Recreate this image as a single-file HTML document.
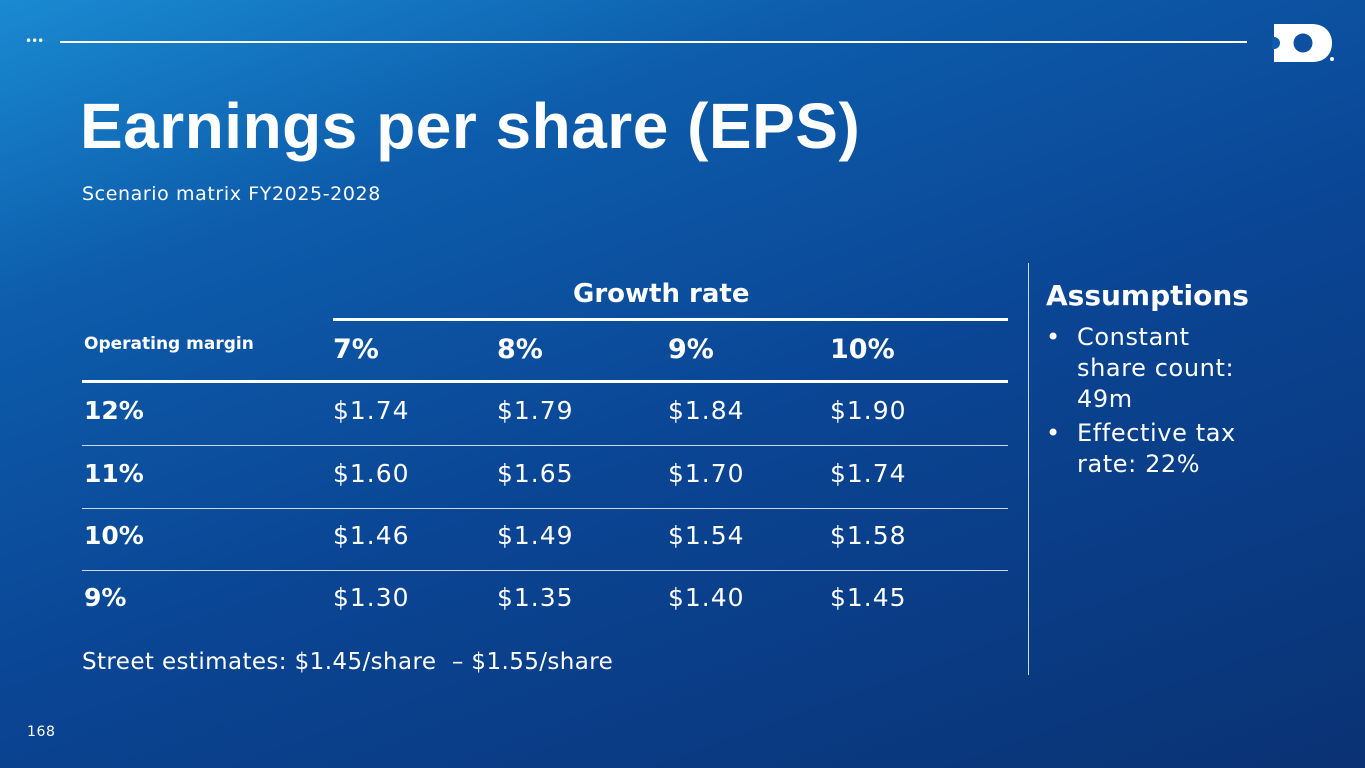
<!DOCTYPE html><html><head><style>
body{margin:0;width:1365px;height:768px;overflow:hidden;font-family:"DejaVu Sans","Liberation Sans",sans-serif;color:#fff;letter-spacing:0.6px;
background:linear-gradient(160deg,#1a8ad2 0%,#0d5cab 25%,#0a4594 55%,#0a3274 100%);position:relative}
.a{position:absolute;white-space:nowrap}
.t{font-size:25px}
.b{font-weight:bold}
</style></head><body>
<div class="a" style="left:25px;top:34px;font-size:12px;letter-spacing:-1px">•••</div>
<div class="a" style="left:60px;top:41px;width:1187px;height:2px;background:#fff"></div>
<svg class="a" style="left:1272px;top:24px" width="64" height="40" viewBox="0 0 64 40">
<path d="M2 0H40C54 0 60 10 60 19C60 29 54 38 40 38H2Z" fill="#fff"/>
<circle cx="2" cy="19" r="6" fill="#0f5aaa"/>
<circle cx="31" cy="19" r="9.5" fill="#0d4fa0"/><circle cx="60" cy="35" r="2" fill="#fff"/></svg>
<div class="a b" style="left:80px;top:89px;font-size:64px;font-family:'Liberation Sans',sans-serif;letter-spacing:0.5px">Earnings per share (EPS)</div>
<div class="a" style="left:82px;top:183px;font-size:19px">Scenario matrix FY2025-2028</div>
<div class="a b" style="left:573px;top:279px;font-size:26px;letter-spacing:0">Growth rate</div>
<div class="a" style="left:333px;top:318px;width:675px;height:3px;background:#fff"></div>
<div class="a b" style="left:84px;top:334px;font-size:17px;letter-spacing:0">Operating margin</div>
<div class="a b" style="left:333px;top:334px;font-size:27px;letter-spacing:0">7%</div>
<div class="a b" style="left:497px;top:334px;font-size:27px;letter-spacing:0">8%</div>
<div class="a b" style="left:668px;top:334px;font-size:27px;letter-spacing:0">9%</div>
<div class="a b" style="left:830px;top:334px;font-size:27px;letter-spacing:0">10%</div>
<div class="a" style="left:82px;top:380px;width:926px;height:3px;background:#fff"></div>
<div class="a" style="left:82px;top:445px;width:926px;height:1px;background:#cfd8e8"></div>
<div class="a" style="left:82px;top:508px;width:926px;height:1px;background:#cfd8e8"></div>
<div class="a" style="left:82px;top:570px;width:926px;height:1px;background:#cfd8e8"></div>
<div class="a t" style="top:396px;left:0;width:1000px;height:200px;letter-spacing:1px">
<div class="a b" style="left:84px;top:0;letter-spacing:0">12%</div><div class="a" style="left:333px;top:0">$1.74</div><div class="a" style="left:497px;top:0">$1.79</div><div class="a" style="left:668px;top:0">$1.84</div><div class="a" style="left:830px;top:0">$1.90</div>
<div class="a b" style="left:84px;top:63px;letter-spacing:0">11%</div><div class="a" style="left:333px;top:63px">$1.60</div><div class="a" style="left:497px;top:63px">$1.65</div><div class="a" style="left:668px;top:63px">$1.70</div><div class="a" style="left:830px;top:63px">$1.74</div>
<div class="a b" style="left:84px;top:125px;letter-spacing:0">10%</div><div class="a" style="left:333px;top:125px">$1.46</div><div class="a" style="left:497px;top:125px">$1.49</div><div class="a" style="left:668px;top:125px">$1.54</div><div class="a" style="left:830px;top:125px">$1.58</div>
<div class="a b" style="left:84px;top:187px;letter-spacing:0">9%</div><div class="a" style="left:333px;top:187px">$1.30</div><div class="a" style="left:497px;top:187px">$1.35</div><div class="a" style="left:668px;top:187px">$1.40</div><div class="a" style="left:830px;top:187px">$1.45</div>
</div>
<div class="a" style="left:82px;top:649px;font-size:23px;letter-spacing:0.4px">Street estimates: $1.45/share&nbsp; – $1.55/share</div>
<div class="a" style="left:1028px;top:263px;width:1px;height:412px;background:#cfd8e8"></div>
<div class="a b" style="left:1046px;top:279px;font-size:28px;letter-spacing:0">Assumptions</div>
<div class="a" style="left:1046px;top:322px;font-size:24px;line-height:31px;white-space:normal;width:240px">
<div style="display:flex"><span style="width:31px">•</span><span>Constant<br>share count:<br>49m</span></div>
<div style="display:flex;margin-top:3px"><span style="width:31px">•</span><span>Effective tax<br>rate: 22%</span></div></div>
<div class="a" style="left:27px;top:724px;font-size:14px">168</div>
</body></html>
